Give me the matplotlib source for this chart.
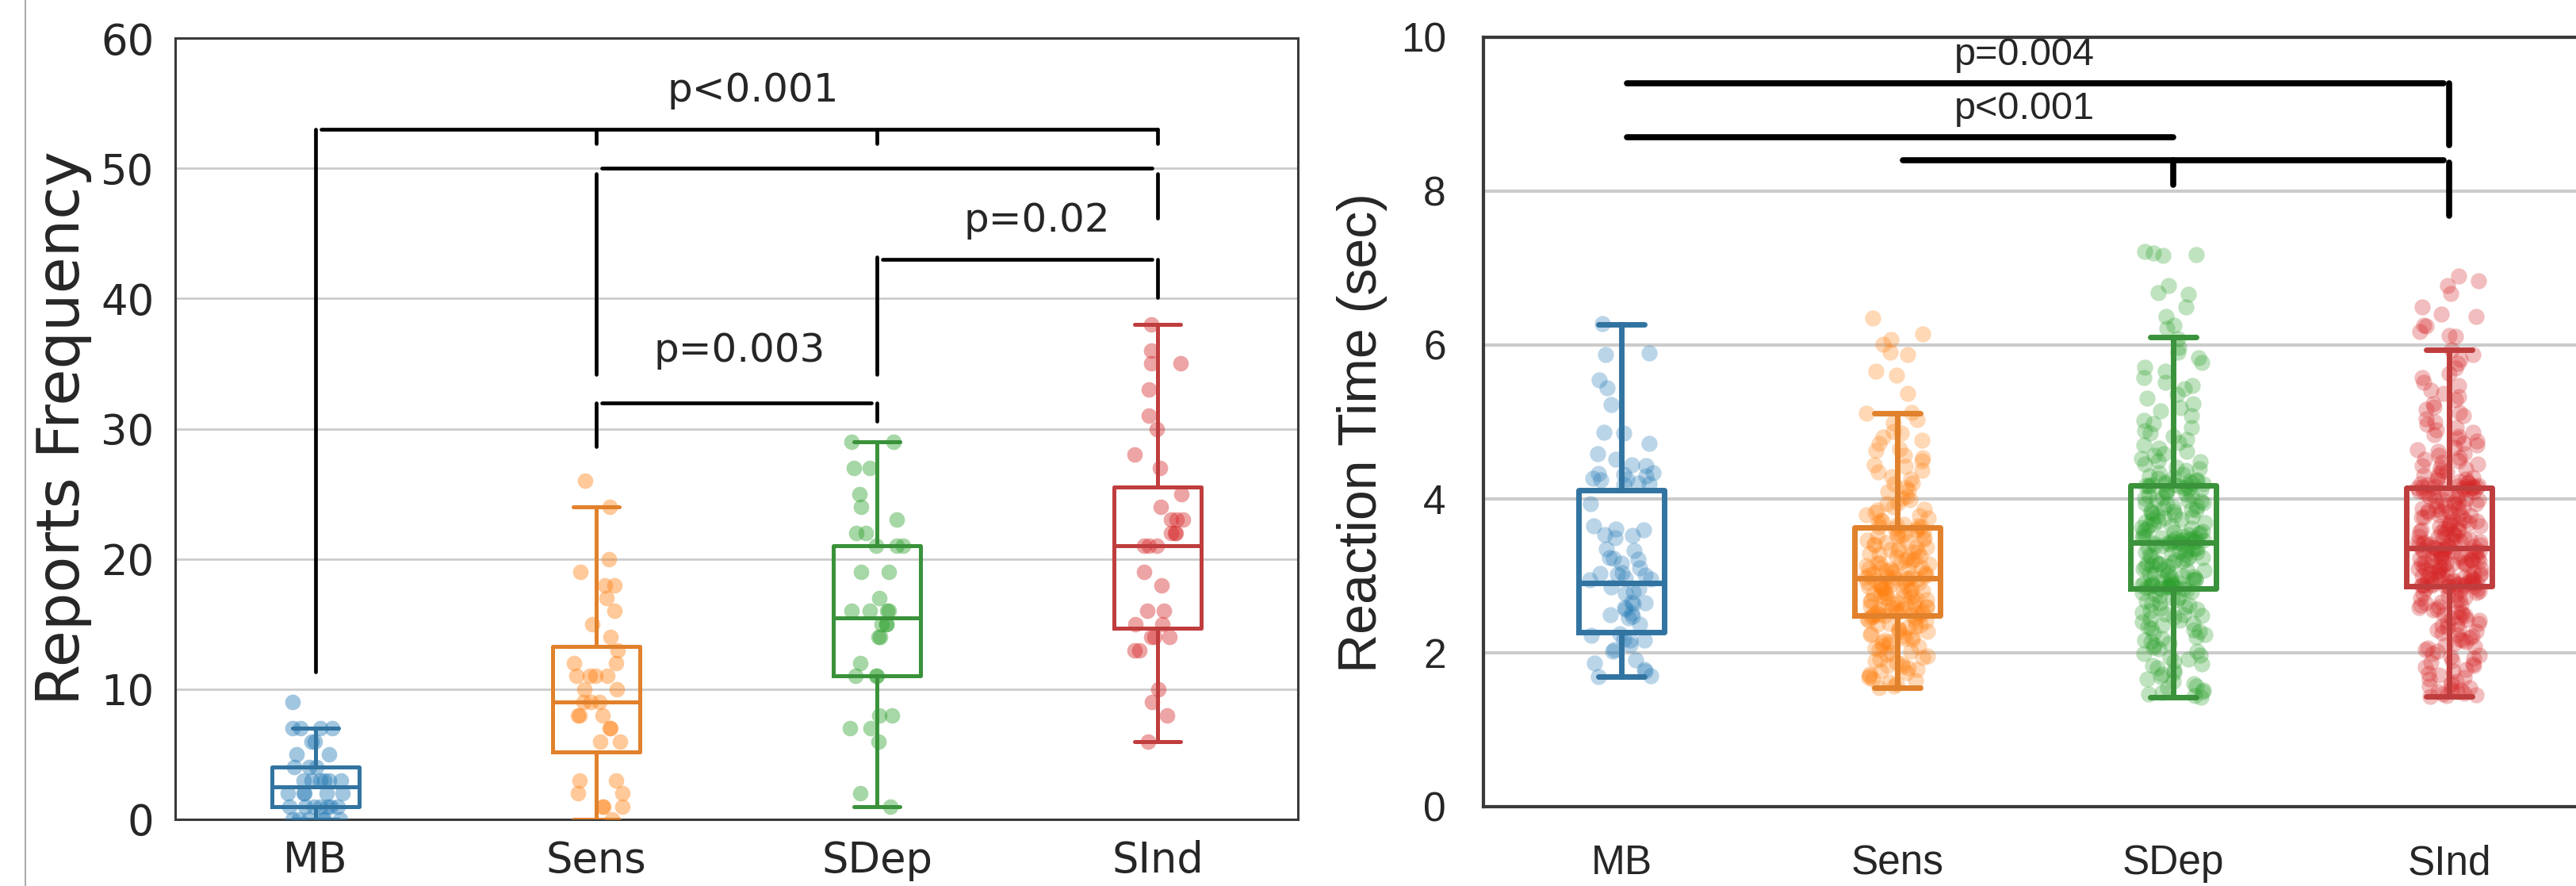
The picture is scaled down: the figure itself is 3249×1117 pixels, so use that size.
import numpy as np
import matplotlib
matplotlib.use("Agg")
import matplotlib.pyplot as plt
from matplotlib.lines import Line2D

# ---------------- data ----------------
CATEGORIES = ["MB", "Sens", "SDep", "SInd"]

# Panel 1: Reports Frequency (individual values)
MB_RF = [9, 7, 7, 7, 7, 6, 6, 5, 5, 4, 4, 4, 3, 3, 3, 3, 3, 3, 2, 2, 2, 2, 2,
         1, 1, 1, 1, 1, 1, 1, 0, 0, 0, 0, 0, 0]
SENS_RF = [26, 24, 20, 19, 18, 18, 17, 16, 15, 14, 13, 12, 12, 11, 11, 11, 11,
           10, 10, 9, 9, 9, 8, 8, 8, 7, 7, 6, 6, 3, 3, 2, 2, 1, 1, 1, 0]
SDEP_RF = [29, 29, 27, 27, 25, 24, 23, 22, 22, 21, 21, 21, 19, 19, 17, 16, 16,
           16, 16, 15, 15, 15, 14, 14, 12, 11, 11, 11, 8, 8, 7, 7, 6, 2, 1]
SIND_RF = [38, 36, 35, 35, 33, 31, 30, 28, 27, 25, 24, 23, 23, 23, 22, 22, 22,
           21, 21, 21, 19, 18, 16, 16, 15, 15, 14, 14, 14, 13, 13, 10, 9, 8, 6]

# Panel 1 box statistics
RF_WHISLO = [0, 0, 1, 6]
RF_Q1 = [1, 5.15, 11, 14.7]
RF_MED = [2.5, 9, 15.5, 21]
RF_Q3 = [4, 13.25, 21, 25.5]
RF_WHISHI = [7, 24, 29, 38]

# Panel 2: Reaction Time (sec)
MB_RT = [6.28, 5.90, 5.88, 5.55, 5.44, 5.23, 4.87, 4.86, 4.72, 4.59, 4.52,
         4.44, 4.43, 4.34, 4.33, 4.32, 4.30, 4.27, 4.26, 4.25, 4.21, 4.20, 4.19,
         3.94, 3.65, 3.61, 3.60, 3.54, 3.53, 3.49, 3.35, 3.33, 3.24, 3.23, 3.22,
         3.17, 3.10, 3.04, 3.03, 3.02, 3.01, 2.97, 2.96, 2.95, 2.86, 2.84, 2.79,
         2.77, 2.66, 2.65, 2.64, 2.59, 2.57, 2.52, 2.50, 2.47, 2.45, 2.37, 2.25,
         2.23, 2.18, 2.17, 2.16, 2.10, 2.04, 2.02, 1.91, 1.87, 1.78, 1.76, 1.70,
         1.69]
SENS_RT = [6.35, 6.14, 6.07, 6.01, 5.91, 5.88, 5.66, 5.61, 5.37, 5.12, 5.11,
           5.03, 4.99, 4.88, 4.86, 4.80, 4.76, 4.72, 4.65, 4.63, 4.57, 4.54,
           4.50, 4.44, 4.42, 4.37, 4.35, 4.29, 4.26, 4.21, 4.20, 4.14, 4.11,
           4.09, 4.03, 4.01, 3.99, 3.95, 3.94, 3.90, 3.87, 3.86, 3.82, 3.79,
           3.78, 3.75, 3.72, 3.71, 3.69, 3.67, 3.66, 3.65, 3.64, 3.64,
           3.62, 3.61, 3.59, 3.58, 3.56, 3.55, 3.53, 3.52, 3.52, 3.49, 3.47,
           3.46, 3.44, 3.43, 3.41, 3.40, 3.38, 3.37, 3.36, 3.34, 3.33, 3.31,
           3.31, 3.29, 3.28, 3.26, 3.25, 3.24, 3.22, 3.21, 3.20, 3.18, 3.17,
           3.16, 3.15, 3.13, 3.12, 3.11, 3.10, 3.09, 3.08, 3.07, 3.06, 3.05,
           3.04, 3.03, 3.02, 3.01, 3.00, 2.99, 2.99, 2.98, 2.98, 2.97,
           2.96, 2.96, 2.95, 2.94, 2.93, 2.92, 2.91, 2.90, 2.89, 2.88, 2.87,
           2.86, 2.85, 2.84, 2.83, 2.82, 2.81, 2.80, 2.79, 2.78, 2.77, 2.76,
           2.75, 2.74, 2.73, 2.72, 2.71, 2.70, 2.69, 2.68, 2.67, 2.66, 2.65,
           2.64, 2.63, 2.62, 2.61, 2.60, 2.60, 2.59, 2.58, 2.57, 2.57, 2.56,
           2.55, 2.54, 2.53, 2.52, 2.52, 2.51, 2.50, 2.49, 2.49, 2.48,
           2.47, 2.46, 2.45, 2.44, 2.42, 2.41, 2.40, 2.38, 2.37, 2.36, 2.34,
           2.33, 2.31, 2.30, 2.28, 2.27, 2.25, 2.24, 2.22, 2.21, 2.19, 2.18,
           2.16, 2.14, 2.13, 2.11, 2.09, 2.08, 2.06, 2.04, 2.02, 2.00, 1.98,
           1.96, 1.94, 1.92, 1.90, 1.88, 1.86, 1.84, 1.82, 1.80, 1.78, 1.76,
           1.74, 1.72, 1.70, 1.68, 1.66, 1.64, 1.62, 1.60, 1.57, 1.55]
SDEP_RT = [7.22, 7.20, 7.18, 7.16, 6.77, 6.68, 6.66, 6.49, 6.37, 6.26, 6.22,
           6.08, 5.97, 5.91, 5.83, 5.77, 5.71, 5.66, 5.58, 5.52, 5.47, 5.43,
           5.36, 5.31, 5.24, 5.19, 5.14, 5.08, 5.02, 4.98, 4.93, 4.89, 4.86,
           4.81, 4.77, 4.73, 4.70, 4.66, 4.62, 4.59, 4.57, 4.53, 4.50, 4.48,
           4.45, 4.41, 4.39, 4.37, 4.34, 4.32, 4.30, 4.28, 4.27, 4.25, 4.24,
           4.23, 4.22, 4.21, 4.20, 4.20, 4.19, 4.19, 4.18, 4.18, 4.18,
           4.17, 4.16, 4.14, 4.13, 4.12, 4.10, 4.09, 4.08, 4.06, 4.05, 4.04,
           4.02, 4.01, 3.99, 3.98, 3.97, 3.95, 3.94, 3.93, 3.91, 3.90, 3.89,
           3.87, 3.86, 3.85, 3.83, 3.82, 3.81, 3.79, 3.78, 3.77, 3.75, 3.74,
           3.73, 3.71, 3.70, 3.69, 3.67, 3.66, 3.65, 3.63, 3.62, 3.61, 3.59,
           3.58, 3.57, 3.56, 3.55, 3.54, 3.53, 3.52, 3.51, 3.50, 3.50, 3.49,
           3.48, 3.48, 3.47, 3.46, 3.46, 3.45, 3.45, 3.44, 3.44, 3.44,
           3.43, 3.42, 3.42, 3.41, 3.40, 3.39, 3.39, 3.37, 3.36, 3.36, 3.35,
           3.33, 3.32, 3.31, 3.31, 3.29, 3.28, 3.27, 3.25, 3.25, 3.24, 3.22,
           3.21, 3.20, 3.19, 3.18, 3.16, 3.15, 3.15, 3.13, 3.12, 3.11, 3.09,
           3.08, 3.07, 3.06, 3.04, 3.03, 3.03, 3.01, 3.00, 2.99, 2.98, 2.96,
           2.95, 2.95, 2.94, 2.93, 2.92, 2.91, 2.91, 2.90, 2.89, 2.89, 2.88,
           2.88, 2.87, 2.87, 2.86, 2.86, 2.86, 2.85, 2.85, 2.85, 2.84,
           2.83, 2.81, 2.79, 2.78, 2.76, 2.74, 2.72, 2.71, 2.69, 2.67, 2.65,
           2.64, 2.62, 2.60, 2.58, 2.57, 2.55, 2.53, 2.51, 2.49, 2.48, 2.46,
           2.44, 2.42, 2.40, 2.38, 2.36, 2.34, 2.32, 2.30, 2.28, 2.26, 2.24,
           2.21, 2.19, 2.17, 2.14, 2.12, 2.10, 2.07, 2.05, 2.02, 1.99, 1.97,
           1.94, 1.92, 1.89, 1.86, 1.83, 1.80, 1.77, 1.74, 1.72, 1.69, 1.66,
           1.63, 1.60, 1.57, 1.55, 1.52, 1.50, 1.48, 1.46, 1.44, 1.42]
SIND_RT = [6.90, 6.84, 6.77, 6.67, 6.49, 6.40, 6.37, 6.26, 6.25, 6.18, 6.12,
           6.11, 5.94, 5.88, 5.81, 5.76, 5.70, 5.63, 5.58, 5.52, 5.47, 5.41,
           5.37, 5.33, 5.29, 5.24, 5.20, 5.16, 5.12, 5.08, 5.04, 5.00, 4.97,
           4.93, 4.90, 4.87, 4.84, 4.81, 4.78, 4.75, 4.72, 4.70, 4.67, 4.64,
           4.62, 4.59, 4.57, 4.54, 4.52, 4.50, 4.47, 4.45, 4.43, 4.41, 4.39,
           4.37, 4.35, 4.33, 4.31, 4.29, 4.28, 4.26, 4.25, 4.23, 4.22, 4.21,
           4.20, 4.19, 4.18, 4.17, 4.17, 4.16, 4.16, 4.15, 4.15, 4.14, 4.14,
           4.14, 4.14, 4.14,
           4.13, 4.12, 4.12, 4.10, 4.09, 4.09, 4.07, 4.06, 4.05, 4.05, 4.03,
           4.02, 4.00, 3.99, 3.99, 3.97, 3.96, 3.95, 3.94, 3.93, 3.92, 3.91,
           3.90, 3.88, 3.88, 3.87, 3.85, 3.84, 3.84, 3.82, 3.81, 3.80, 3.79,
           3.78, 3.76, 3.76, 3.75, 3.73, 3.72, 3.71, 3.70, 3.69, 3.68, 3.67,
           3.66, 3.65, 3.64, 3.62, 3.62, 3.61, 3.60, 3.59, 3.58, 3.57, 3.56,
           3.55, 3.54, 3.53, 3.52, 3.51, 3.50, 3.49, 3.48, 3.47, 3.46, 3.45,
           3.44, 3.43, 3.43, 3.42, 3.41, 3.40, 3.40, 3.39, 3.39, 3.38, 3.38,
           3.37, 3.37, 3.36,
           3.35, 3.35, 3.34, 3.34, 3.33, 3.32, 3.32, 3.31, 3.31, 3.30, 3.29,
           3.29, 3.28, 3.27, 3.27, 3.26, 3.25, 3.25, 3.24, 3.23, 3.23, 3.22,
           3.21, 3.21, 3.20, 3.19, 3.18, 3.18, 3.17, 3.16, 3.15, 3.15, 3.14,
           3.13, 3.12, 3.12, 3.11, 3.10, 3.09, 3.09, 3.08, 3.07, 3.06, 3.06,
           3.05, 3.04, 3.03, 3.03, 3.02, 3.01, 3.00, 3.00, 2.99, 2.98, 2.98,
           2.97, 2.96, 2.96, 2.95, 2.95, 2.94, 2.93, 2.93, 2.92, 2.92, 2.91,
           2.91, 2.90, 2.90, 2.89, 2.89, 2.89, 2.88, 2.88, 2.88, 2.87, 2.87,
           2.87, 2.87, 2.87,
           2.86, 2.84, 2.83, 2.81, 2.80, 2.78, 2.77, 2.75, 2.74, 2.72, 2.71,
           2.69, 2.68, 2.66, 2.65, 2.63, 2.62, 2.60, 2.59, 2.57, 2.56, 2.54,
           2.53, 2.51, 2.50, 2.48, 2.46, 2.45, 2.43, 2.42, 2.40, 2.38, 2.37,
           2.35, 2.33, 2.31, 2.30, 2.28, 2.26, 2.24, 2.22, 2.20, 2.18, 2.16,
           2.14, 2.12, 2.10, 2.08, 2.06, 2.04, 2.02, 1.99, 1.97, 1.95, 1.93,
           1.90, 1.88, 1.86, 1.83, 1.81, 1.78, 1.76, 1.73, 1.71, 1.68, 1.66,
           1.63, 1.61, 1.59, 1.57, 1.55, 1.53, 1.52, 1.50, 1.49, 1.47, 1.46,
           1.45, 1.44, 1.43]

# Panel 2 box statistics
RT_WHISLO = [1.69, 1.55, 1.42, 1.43]
RT_Q1 = [2.27, 2.48, 2.84, 2.87]
RT_MED = [2.91, 2.97, 3.43, 3.36]
RT_Q3 = [4.11, 3.63, 4.18, 4.14]
RT_WHISHI = [6.27, 5.11, 6.10, 5.94]

# significance annotations
RF_PTEXT = ["p<0.001", "p=0.02", "p=0.003"]
RT_PTEXT = ["p=0.004", "p<0.001"]

# ---------------- style ----------------
POINT_COLORS = ["#1f77b4", "#ff7f0e", "#2ca02c", "#d62728"]
BOX_COLORS = ["#3274a1", "#e1812c", "#3a923a", "#c03d3e"]

W, H = 3249, 1117
fig = plt.figure(figsize=(W / 100, H / 100), dpi=100)
fig.patch.set_facecolor("white")

ax1 = fig.add_axes([221 / W, (H - 1033) / H, 1416 / W, 985 / H])
ax2 = fig.add_axes([1871 / W, (H - 1017) / H, 1392 / W, 970 / H])

fig.add_artist(Line2D([32 / W, 32 / W], [0, 1], transform=fig.transFigure,
                      color="#9a9a9a", lw=1.2))

rng = np.random.default_rng(3)


def draw_panel(ax, groups, lo, q1, med, q3, hi, box_lw, pt_size, pt_alpha, jit):
    for i, vals in enumerate(groups):
        stats = [dict(med=med[i], q1=q1[i], q3=q3[i], whislo=lo[i],
                      whishi=hi[i], fliers=[])]
        c = BOX_COLORS[i]
        ax.bxp(stats, positions=[i], widths=0.31, capwidths=0.165,
               showfliers=False, patch_artist=False,
               boxprops=dict(color=c, lw=box_lw, zorder=4),
               whiskerprops=dict(color=c, lw=box_lw, zorder=4),
               capprops=dict(color=c, lw=box_lw, solid_capstyle="round",
                             zorder=4),
               medianprops=dict(color=c, lw=box_lw, zorder=4),
               manage_ticks=False)
        v = np.asarray(vals, dtype=float)
        xs = i + rng.uniform(-jit, jit, len(v))
        ax.scatter(xs, v, s=pt_size, color=POINT_COLORS[i], alpha=pt_alpha,
                   linewidths=0, zorder=3)


draw_panel(ax1, [MB_RF, SENS_RF, SDEP_RF, SIND_RF], RF_WHISLO, RF_Q1, RF_MED,
           RF_Q3, RF_WHISHI, 3.6, 200, 0.42, 0.1)
draw_panel(ax2, [MB_RT, SENS_RT, SDEP_RT, SIND_RT], RT_WHISLO, RT_Q1, RT_MED,
           RT_Q3, RT_WHISHI, 5.0, 215, 0.3, 0.115)


def seg(ax, xs, ys, lw):
    ax.plot(xs, ys, color="black", lw=lw, solid_capstyle="round", zorder=5,
            clip_on=False)


# ---- Panel 1 brackets ----
blw = 3.4
# MB vs all (p<0.001)
seg(ax1, [0.02, 3], [53, 53], blw)
seg(ax1, [0, 0], [53, 11.3], blw)
seg(ax1, [1, 1], [53, 51.9], blw)
seg(ax1, [2, 2], [53, 51.9], blw)
seg(ax1, [3, 3], [53, 51.9], blw)
# Sens vs SInd
seg(ax1, [1.02, 2.98], [50, 50], blw)
seg(ax1, [1, 1], [49.6, 34.2], blw)
seg(ax1, [3, 3], [49.6, 46.2], blw)
# SDep vs SInd (p=0.02)
seg(ax1, [2.02, 2.98], [43, 43], blw)
seg(ax1, [2, 2], [43.2, 34.2], blw)
seg(ax1, [3, 3], [43, 40.1], blw)
# Sens vs SDep (p=0.003)
seg(ax1, [1.02, 1.98], [32, 32], blw)
seg(ax1, [1, 1], [32, 28.6], blw)
seg(ax1, [2, 2], [32, 30.6], blw)

tkw1 = dict(ha="center", va="center", fontsize=36, color="#262626",
            family="DejaVu Sans", zorder=6)
ax1.text(1.56, 56.0, RF_PTEXT[0], **tkw1)
ax1.text(2.57, 46.0, RF_PTEXT[1], **tkw1)
ax1.text(1.51, 36.0, RF_PTEXT[2], **tkw1)

# ---- Panel 2 brackets ----
blw2 = 5.5
seg(ax2, [0.02, 2.98], [9.40, 9.40], blw2)
seg(ax2, [3, 3], [9.40, 8.60], blw2)
seg(ax2, [0.02, 2.0], [8.70, 8.70], blw2)
seg(ax2, [1.02, 2.98], [8.40, 8.40], blw2)
seg(ax2, [2, 2], [8.40, 8.08], blw2)
seg(ax2, [3, 3], [8.37, 7.68], blw2)

tkw2 = dict(ha="center", va="center", fontsize=35, color="#262626",
            family="Liberation Sans", zorder=6)
ax2.text(1.46, 9.77, RT_PTEXT[0], **tkw2)
ax2.text(1.46, 9.07, RT_PTEXT[1], **tkw2)

# ---- axes styling ----
for ax, fam, lim, ticks, grid_lw, sp_lw, ypad, xpad, fs in [
        (ax1, "DejaVu Sans", (0, 60), range(0, 61, 10), 2.0, 2.2, 19, 19, 38),
        (ax2, "Liberation Sans", (0, 10), range(0, 11, 2), 3.0, 3.0, 34, 34, 37)]:
    ax.set_xlim(-0.5, 3.5)
    ax.set_ylim(*lim)
    ax.set_yticks(list(ticks))
    ax.set_xticks(range(len(CATEGORIES)))
    ax.set_xticklabels(CATEGORIES)
    ax.set_axisbelow(True)
    ax.yaxis.grid(True, color="#cccccc", lw=grid_lw, zorder=0)
    ax.xaxis.grid(False)
    for s in ax.spines.values():
        s.set_color("#3a3a3a")
        s.set_linewidth(sp_lw)
    ax.tick_params(axis="y", length=0, pad=ypad, labelsize=fs, colors="#262626")
    ax.tick_params(axis="x", length=0, pad=xpad, labelsize=fs, colors="#262626")
    for lab in ax.get_xticklabels() + ax.get_yticklabels():
        lab.set_family(fam)

fig.text(80 / W, 1 - 540 / H, "Reports Frequency", rotation=90, ha="center",
         va="center", fontsize=54, color="#262626", family="DejaVu Sans")
fig.text(1718 / W, 1 - 546 / H, "Reaction Time (sec)", rotation=90,
         ha="center", va="center", fontsize=49, color="#262626",
         family="Liberation Sans")

fig.savefig("out.png", dpi=100, facecolor="white")
